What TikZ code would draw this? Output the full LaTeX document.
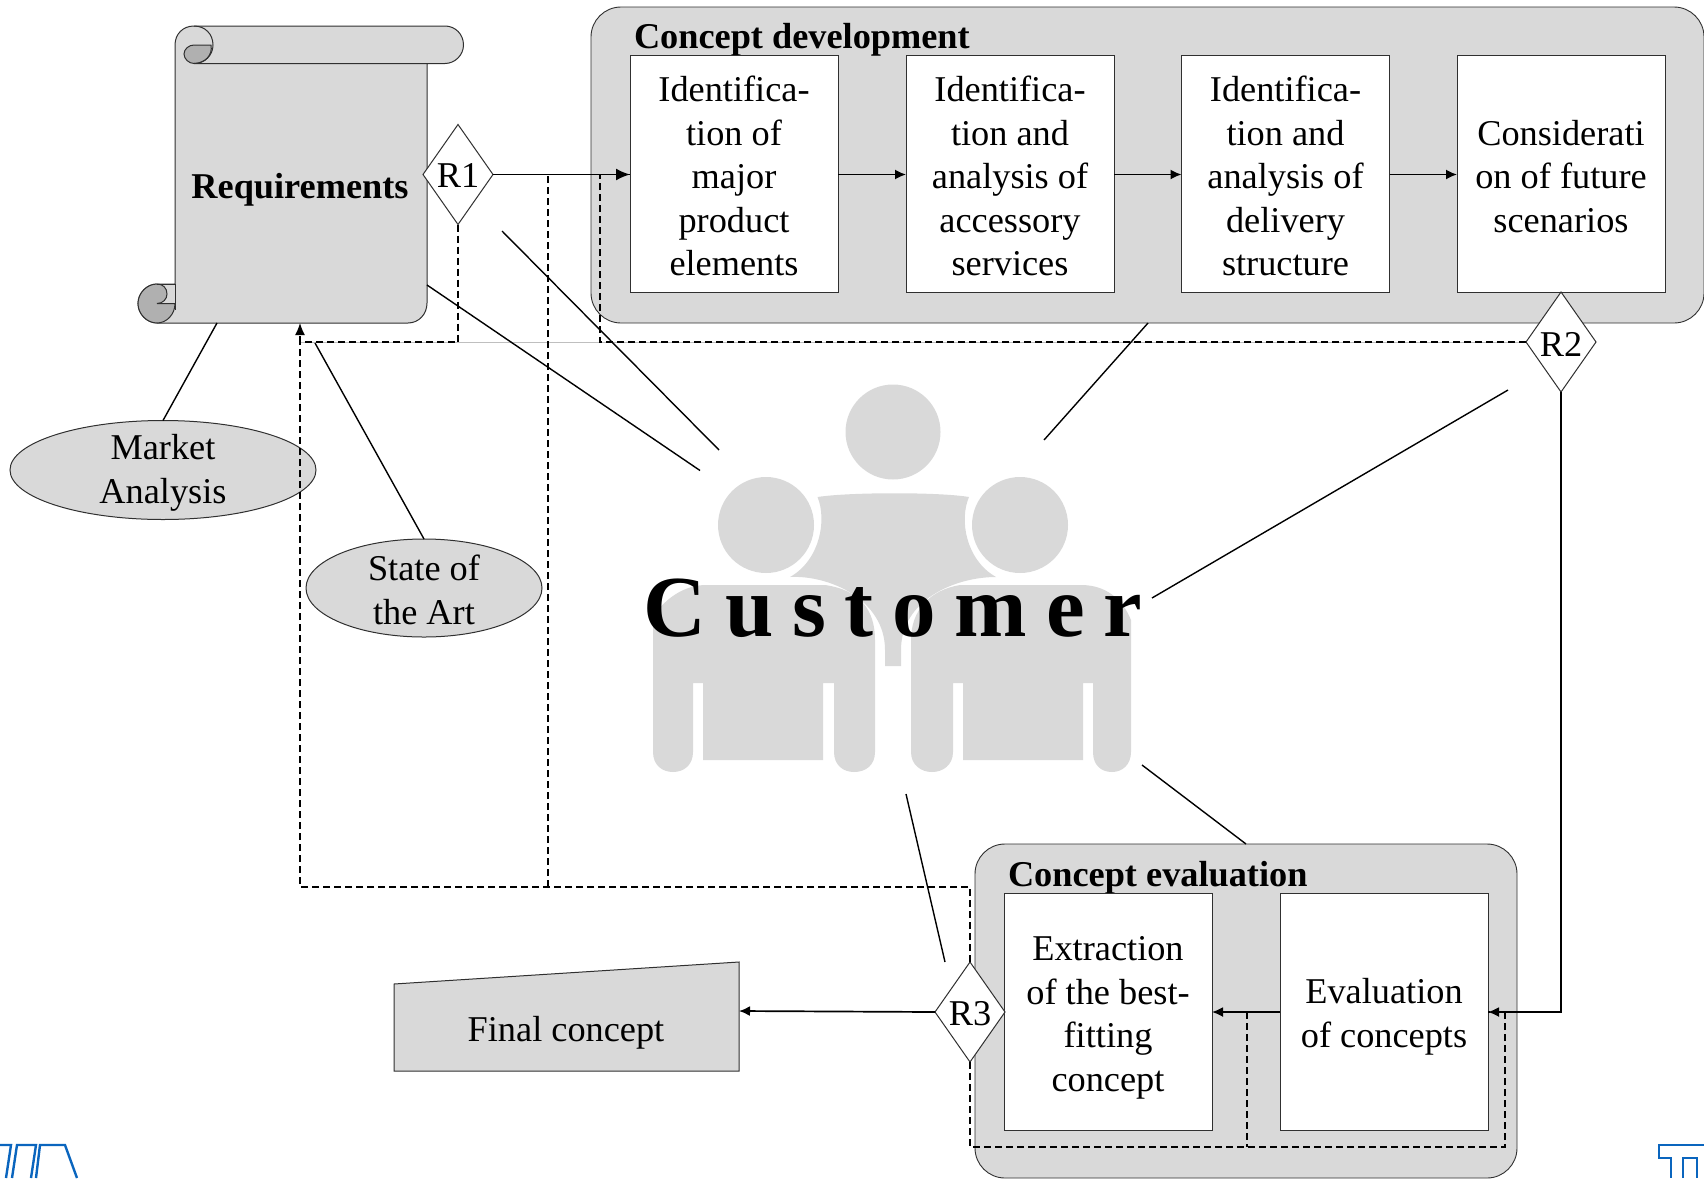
\documentclass[tikz,border=0pt]{standalone}
\usepackage{fontspec}
\setmainfont{Liberation Serif}
\usetikzlibrary{shapes.geometric,arrows.meta}
\definecolor{panel}{HTML}{D9D9D9}
\definecolor{curl}{HTML}{B0B0B0}
\definecolor{edge}{HTML}{303030}
\definecolor{tum}{HTML}{0A65BE}
\tikzset{
  base/.style={inner sep=0pt,outer sep=0pt,font=\fontsize{36.3}{43.5}\selectfont,align=center},
  panelbox/.style={base,draw=edge,fill=panel,line width=.9pt,rounded corners=30pt},
  stepbox/.style={base,draw=edge,fill=white,line width=.9pt,minimum width=#1},
  gate/.style={base,diamond,draw=edge,fill=white,line width=1pt,minimum width=70pt,minimum height=100pt},
  cloud/.style={base,ellipse,draw=edge,fill=panel,line width=1pt},
  title/.style={base,anchor=west,font=\fontsize{36.3}{43.5}\selectfont\bfseries},
  link/.style={draw=black,line width=1.4pt},
  flow/.style={draw=black,line width=1.7pt,-{Latex[length=11pt,width=10pt]}},
  back/.style={draw=black,line width=1.4pt,dash pattern=on 7pt off 4pt},
  backtip/.style={back,-{Latex[length=12pt,width=10pt]}},
  icon/.style={fill=panel,draw=none},
  logo/.style={draw=tum,line width=2.4pt,miter limit=10}
}
\begin{document}
\begin{tikzpicture}[x=1pt,y=-1pt]
\clip (0,0) rectangle (1704,1178);
% customer icon
\fill[icon] (893,432) circle (47.5);
\fill[icon] (766,525) circle (48);
\fill[icon] (1020,525) circle (48);
\fill[icon] (817.5,497) .. controls (827,520) and (820,560) .. (790,577)
  .. controls (830,575) and (885,600) .. (885,650) -- (885,666) -- (901,666) -- (901,650)
  .. controls (901,600) and (955,577) .. (996,577)
  .. controls (966,560) and (959,520) .. (969,497)
  .. controls (940,492) and (850,492) .. (817.5,497) -- cycle;
\fill[icon] (653,752) -- (653,617) .. controls (665,598) and (685,585) .. (706,585) -- (825,585)
  .. controls (860,590) and (875,610) .. (875,640) -- (875,752)
  .. controls (875,765) and (866,772) .. (854,772) .. controls (843,772) and (834,765) .. (834,752)
  -- (834,683) -- (823,683) -- (823,760) -- (703,760) -- (703,683) -- (693,683) -- (693,752)
  .. controls (693,765) and (684,772) .. (673,772) .. controls (662,772) and (653,765) .. (653,752) -- cycle;
\fill[icon] (911,752) -- (911,640) .. controls (911,610) and (930,590) .. (960,585) -- (1081,585)
  .. controls (1105,585) and (1122,598) .. (1131,620) -- (1131,752)
  .. controls (1131,765) and (1122,772) .. (1112,772) .. controls (1101,772) and (1093,765) .. (1093,752)
  -- (1093,683) -- (1083,683) -- (1083,760) -- (963,760) -- (963,683) -- (953,683) -- (953,752)
  .. controls (953,765) and (943,772) .. (932,772) .. controls (921,772) and (911,765) .. (911,752) -- cycle;
% panels
\node[panelbox,minimum width=1113pt,minimum height=316pt] (devpanel) at (1147.5,165) {};
\node[panelbox,minimum width=542pt,minimum height=334pt] (evalpanel) at (1246,1011) {};
\node[title] (devtitle) at (634,40) {Concept development};
\node[title] (evaltitle) at (1008,878) {Concept evaluation};
% scroll
\path[fill=panel,draw=edge,line width=1pt] (175,45) .. controls (175,34) and (183,26) .. (194,26) -- (445,26)
  .. controls (455,26) and (463.5,34) .. (463.5,45) .. controls (463.5,55) and (455,63.5) .. (445,63.5) -- (427,63.5)
  -- (427,303) .. controls (427,314) and (419,323) .. (408,323) -- (157,323)
  .. controls (147,323) and (138,314) .. (138,303.5) .. controls (138,293) and (147,284) .. (157,284) -- (175,284) -- cycle;
\path[fill=curl,draw=edge,line width=1pt] (194,45) -- (211,45) .. controls (213,55) and (205,63.5) .. (194,63.5)
  .. controls (189,63.5) and (184,59) .. (184,54) .. controls (184,49) and (189,45) .. (194,45) -- cycle;
\draw[edge,line width=1pt] (194,26) .. controls (205,26) and (213,34) .. (213,45) .. controls (213,55) and (205,63.5) .. (194,63.5) -- (427,63.5);
\path[fill=curl,draw=edge,line width=1pt] (157,284) .. controls (147,284) and (138,293) .. (138,303.5)
  .. controls (138,314) and (147,323) .. (157,323) .. controls (167,323) and (175,314) .. (175,303.5) -- (157,303.5)
  .. controls (163,303.5) and (167,299) .. (167,294) .. controls (167,288) and (163,284) .. (157,284) -- cycle;
\draw[edge,line width=1pt] (157,284) -- (175,284) -- (175,310);
\node[base,font=\fontsize{36.3}{43.5}\selectfont\bfseries] (req) at (300,189.5) {Requirements};
% steps
\node[stepbox=208pt,minimum height=237pt] (s1) at (734,173.5) {};
\node[stepbox=208pt,minimum height=237pt] (s2) at (1010,173.5) {};
\node[stepbox=208pt,minimum height=237pt] (s3) at (1285.5,173.5) {};
\node[stepbox=208pt,minimum height=237pt] (s4) at (1561,173.5) {};
\node[stepbox=208pt,minimum height=237pt] (s5) at (1108,1011.5) {};
\node[stepbox=208pt,minimum height=237pt] (s6) at (1384,1011.5) {};
\node[base,yshift=-2.7pt] (s1t) at (s1) {Identifica-\\tion of\\major\\product\\elements};
\node[base,yshift=-2.7pt] (s2t) at (s2) {Identifica-\\tion and\\analysis of\\accessory\\services};
\node[base,yshift=-2.7pt] (s3t) at (s3) {Identifica-\\tion and\\analysis of\\delivery\\structure};
\node[base,yshift=-2.7pt] (s4t) at (s4) {Considerati\\on of future\\scenarios};
\node[base,yshift=-6.5pt] (s5t) at (s5) {Extraction\\of the best-\\fitting\\concept};
\node[base,yshift=-5.5pt] (s6t) at (s6) {Evaluation\\of concepts};
% others
\node[cloud,inner sep=-14pt,minimum width=306pt,minimum height=99pt] (market) at (163,470) {};
\node[base,yshift=-3pt] (markett) at (market) {Market\\Analysis};
\node[cloud,inner sep=-14pt,minimum width=236pt,minimum height=98pt] (art) at (424,588) {};
\node[base,yshift=-2pt] (artt) at (art) {State of\\the Art};
\path[fill=panel,draw=edge,line width=1pt] (394,984) -- (739,962) -- (739,1071) -- (394,1071) -- cycle;
\node[base] (final) at (566,1033) {Final concept};
\coordinate (finalport) at (739,1011);
% gates
\node[gate] (r1) at (458,174.5) {};
\node[gate] (r2) at (1561,342) {};
\node[gate] (r3) at (970,1012) {};
\node[base] (r1t) at (458,175.5) {R1};
\node[base] (r2t) at (1561,344) {R2};
\node[base] (r3t) at (970,1014) {R3};
% free ends
\coordinate (reqport) at (300,323);
\coordinate (joinA) at (300,342);
\coordinate (joinB) at (458,342);
\coordinate (joinC) at (600,342);
\coordinate (joinD) at (600,174.5);
\coordinate (joinE) at (548,887);
\coordinate (joinF) at (548,174.5);
\coordinate (joinG) at (300,887);
\coordinate (joinH) at (970,887);
\coordinate (joinI) at (970,1147);
\coordinate (joinJ) at (1505,1147);
\coordinate (joinK) at (1505,1012);
\coordinate (joinL) at (1247,1012);
\coordinate (joinM) at (1247,1147);
\coordinate (cornerR2) at (1561,1012);
% grey trace
\draw[gray!50,line width=.8pt] (joinA) -- (r2.west);
% spokes
\draw[link] (217,323) -- (market.north);
\draw[link] (315,343) -- (art.north);
\draw[link] (427,285) -- (700,470.5);
\draw[link] (502,231) -- (719,450);
\draw[link] (1148,323) -- (1044,440);
\draw[link] (1508,390) -- (1152,598);
\draw[link] (1246,844) -- (1142,765);
\draw[link] (945,962) -- (906,794);
% feedback
\draw[back] (r2.west) -- (joinC) -- (joinD);
\draw[backtip] (r1.south) -- (joinB) -- (joinA) -- (reqport);
\draw[back] (r3.north) -- (joinH) -- (joinG) -- (joinA);
\draw[back] (joinE) -- (joinF) -- (s1.west |- joinF);
\draw[back] (r3.south) -- (joinI) -- (joinJ) -- (joinK) -- (s6.east |- joinK);
\draw[back] (s6.west |- joinL) -- (joinL) -- (joinM);
% flow
\draw[flow,-{Latex[length=14pt,width=12pt]}] (r1.east) -- (s1.west |- r1.east);
\draw[flow] (s1.east |- r1.east) -- (s2.west |- r1.east);
\draw[flow] (s2.east |- r1.east) -- (s3.west |- r1.east);
\draw[flow] (s3.east |- r1.east) -- (s4.west |- r1.east);
\draw[flow] (r2.south) -- (cornerR2) -- (s6.east |- cornerR2);
\draw[flow] (s6.west |- cornerR2) -- (s5.east |- cornerR2);
\draw[flow] (r3.west) -- (finalport);
% customer text
\node[base,anchor=base,font=\fontsize{87}{90}\bfseries\addfontfeature{LetterSpace=21.5}\selectfont] (cust) at (893,636) {Customer};
% logos
\draw[logo] (0,1145) -- (11,1145) -- (6,1178);
\draw[logo] (12,1178) -- (17,1145) -- (36,1145) -- (31,1178);
\draw[logo] (36,1178) -- (40,1145) -- (65,1145) -- (77,1178);
\draw[logo] (1704,1145) -- (1659,1145) -- (1659,1158) -- (1671,1158) -- (1671,1178);
\draw[logo] (1683,1178) -- (1683,1158) -- (1697,1158) -- (1697,1178);
\end{tikzpicture}
\end{document}
